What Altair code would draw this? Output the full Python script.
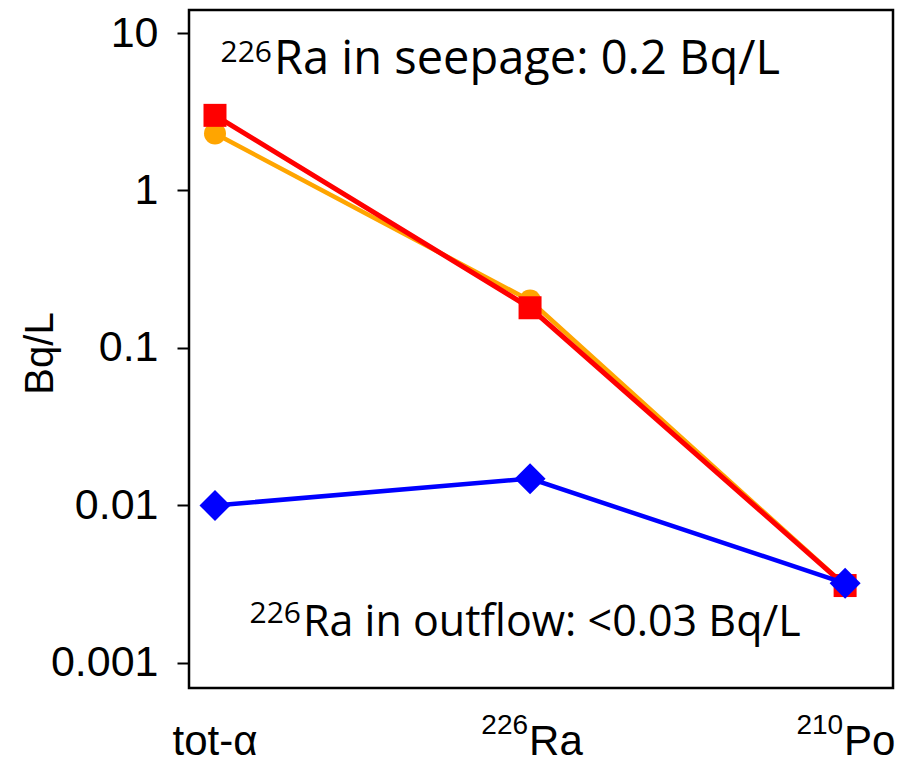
import altair as alt
import pandas as pd

# ---- data ----
categories = ["tot-α", "226Ra", "210Po"]
series_names = ["orange", "red", "blue"]
orange_vals = [2.3, 0.20, 0.0031]
red_vals = [3.0, 0.18, 0.0031]
blue_vals = [0.010, 0.0148, 0.0032]
label_sup = ["", "226", "210"]
label_main = ["tot-α", "Ra", "Po"]
y_ticks = [0.001, 0.01, 0.1, 1, 10]
ann_sup = ["226", "226"]
ann_main = ["Ra in seepage: 0.2 Bq/L", "Ra in outflow: <0.03 Bq/L"]

rows = []
for name, vals in zip(series_names, [orange_vals, red_vals, blue_vals]):
    for i, v in enumerate(vals):
        rows.append({"series": name, "idx": i, "cat": categories[i], "value": v})
df = pd.DataFrame(rows)
lab = pd.DataFrame({"idx": [0, 1, 2], "sup": label_sup, "main": label_main})

W, H = 704, 678
x_scale = alt.Scale(domain=[-0.0825, 2.152], nice=False, zero=False)
y_scale = alt.Scale(type="log", domain=[0.000693, 14.0], nice=False)

x_axis = alt.Axis(values=[0, 1, 2], labels=False, tickSize=14, tickWidth=2,
                  tickColor="black", domain=False, grid=False, title=None)
y_axis = alt.Axis(values=y_ticks, format="~g", labelFontSize=43,
                  labelFont="Liberation Sans", labelColor="black",
                  tickSize=12, tickWidth=2, tickColor="black", domain=False,
                  grid=False, labelPadding=19, title="Bq/L", titleFontSize=40,
                  titleFont="Liberation Sans", titleFontWeight="normal",
                  titleColor="black", titleX=-137, titleY=343, titleAngle=270,
                  titleAlign="center", titleBaseline="alphabetic")

x_enc = alt.X("idx:Q", scale=x_scale, axis=x_axis)
y_enc = alt.Y("value:Q", scale=y_scale, axis=y_axis)

colors = {"orange": "#FFA500", "red": "#FF0000", "blue": "#0000FF"}
shapes = {"orange": ("circle", 484), "red": ("square", 529), "blue": ("diamond", 961)}
widths = {"orange": 4.5, "red": 5, "blue": 4.5}

layers = []
for name in series_names:
    base = alt.Chart(df).transform_filter(alt.datum.series == name)
    layers.append(base.mark_line(color=colors[name], strokeWidth=widths[name]).encode(x=x_enc, y=y_enc))
    shp, sz = shapes[name]
    layers.append(base.mark_point(shape=shp, size=sz, filled=True, opacity=1,
                                  color=colors[name]).encode(x=x_enc, y=y_enc))

LAB_Y = 745
# x-axis labels as text (superscripts)
lab_main_first = alt.Chart(lab).transform_filter(alt.datum.idx == 0).mark_text(
    align="center", baseline="alphabetic", fontSize=42, font="Liberation Sans",
    color="black").encode(x=alt.X("idx:Q", scale=x_scale, axis=None),
                          y=alt.value(LAB_Y), text="main:N")
lab_main_rest = alt.Chart(lab).transform_filter(alt.datum.idx > 0).mark_text(
    align="left", baseline="alphabetic", fontSize=42, font="Liberation Sans",
    color="black", dx=-1).encode(x=alt.X("idx:Q", scale=x_scale, axis=None),
                          y=alt.value(LAB_Y), text="main:N")
lab_sup = alt.Chart(lab).transform_filter(alt.datum.idx > 0).mark_text(
    align="right", baseline="alphabetic", fontSize=28, font="Liberation Sans",
    color="black", dx=-2).encode(x=alt.X("idx:Q", scale=x_scale, axis=None),
                          y=alt.value(LAB_Y - 21), text="sup:N")

# annotations
ann = pd.DataFrame({"sup": ann_sup, "main": ann_main})
ann_font = "Open Sans"
a1_sup = alt.Chart(ann.iloc[[0]]).mark_text(align="right", baseline="alphabetic",
    fontSize=30, font=ann_font, color="black", dx=-2).encode(
    x=alt.value(85), y=alt.value(52), text="sup:N")
a1_main = alt.Chart(ann.iloc[[0]]).mark_text(align="left", baseline="alphabetic",
    fontSize=47, font=ann_font, color="black").encode(
    x=alt.value(85), y=alt.value(64), text="main:N")
a2_sup = alt.Chart(ann.iloc[[1]]).mark_text(align="right", baseline="alphabetic",
    fontSize=30, font=ann_font, color="black", dx=-2).encode(
    x=alt.value(114), y=alt.value(613), text="sup:N")
a2_main = alt.Chart(ann.iloc[[1]]).mark_text(align="left", baseline="alphabetic",
    fontSize=43, font=ann_font, color="black").encode(
    x=alt.value(114), y=alt.value(626), text="main:N")

chart = alt.layer(*layers, lab_main_first, lab_main_rest, lab_sup,
                  a1_sup, a1_main, a2_sup, a2_main).properties(
    width=W, height=H,
    autosize=alt.AutoSizeParams(type="none"),
    padding={"left": 181, "top": 2, "right": 11, "bottom": 78},
    background="white",
).configure_view(stroke="black", strokeWidth=2.5)

chart.save("out.html", embed_options={"renderer": "svg", "actions": False})
